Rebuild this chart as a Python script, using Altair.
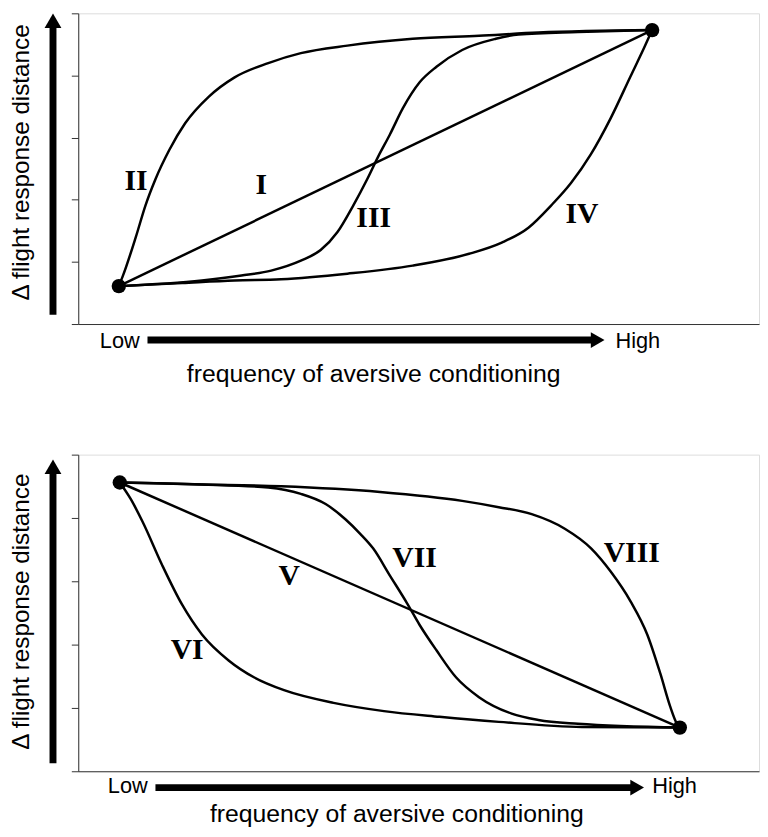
import altair as alt
import pandas as pd

# ---------------- data ----------------
# x: 0..100 along the frequency axis, y: 0..5 (one unit per tick)
TOP_DOTS_X = [5.96, 84.30]
TOP_DOTS_Y = [0.61, 4.73]

CURVE_I_X = [5.96, 84.30]
CURVE_I_Y = [0.61, 4.73]
CURVE_II_X = [5.96, 6.54, 8.43, 9.88, 11.34, 13.37, 15.70, 19.19, 22.97, 27.91, 32.70, 39.53, 49.13, 58.87, 67.59, 84.30]
CURVE_II_Y = [0.61, 0.77, 1.39, 1.91, 2.33, 2.80, 3.23, 3.66, 3.97, 4.20, 4.36, 4.48, 4.59, 4.64, 4.69, 4.73]
CURVE_III_X = [5.96, 18.17, 23.98, 28.34, 32.70, 35.61, 38.08, 40.41, 42.44, 44.04, 45.78, 47.67, 50.15, 52.62, 56.40, 61.34, 64.68, 73.40, 84.30]
CURVE_III_Y = [0.61, 0.70, 0.78, 0.86, 1.02, 1.19, 1.48, 1.91, 2.33, 2.69, 3.05, 3.47, 3.89, 4.14, 4.41, 4.59, 4.66, 4.70, 4.73]
CURVE_IV_X = [5.96, 15.26, 22.97, 29.80, 39.53, 49.13, 57.41, 62.21, 66.13, 69.48, 72.38, 75.29, 78.20, 81.10, 83.14, 84.30]
CURVE_IV_Y = [0.61, 0.66, 0.70, 0.72, 0.81, 0.94, 1.13, 1.31, 1.55, 1.91, 2.27, 2.73, 3.31, 3.98, 4.45, 4.73]

BOT_DOTS_X = [6.10, 88.37]
BOT_DOTS_Y = [4.56, 0.69]

CURVE_V_X = [6.10, 88.37]
CURVE_V_Y = [4.56, 0.69]
CURVE_VI_X = [6.10, 7.70, 9.45, 12.35, 15.26, 18.17, 22.09, 25.87, 30.23, 37.50, 44.91, 53.05, 61.77, 73.98, 88.37]
CURVE_VI_Y = [4.56, 4.30, 3.94, 3.25, 2.63, 2.16, 1.75, 1.48, 1.28, 1.08, 0.95, 0.86, 0.78, 0.70, 0.69]
CURVE_VII_X = [6.10, 18.17, 27.91, 32.70, 36.34, 39.24, 41.42, 43.31, 45.78, 48.26, 50.15, 52.62, 55.52, 58.87, 63.66, 67.59, 73.40, 88.37]
CURVE_VII_Y = [4.56, 4.53, 4.48, 4.38, 4.22, 3.98, 3.75, 3.52, 3.09, 2.66, 2.31, 1.91, 1.48, 1.17, 0.91, 0.81, 0.75, 0.69]
CURVE_VIII_X = [6.10, 18.17, 29.80, 44.33, 56.40, 61.77, 66.61, 71.47, 75.33, 78.24, 81.15, 83.58, 85.51, 86.96, 87.94, 88.37]
CURVE_VIII_Y = [4.56, 4.53, 4.50, 4.41, 4.27, 4.17, 4.06, 3.83, 3.52, 3.15, 2.68, 2.16, 1.54, 1.02, 0.75, 0.69]

TOP_LABELS = ["II", "I", "III", "IV"]
TOP_LABELS_X = [8.5, 26.9, 43.4, 74.0]
TOP_LABELS_Y = [2.16, 2.09, 1.56, 1.63]
BOT_LABELS = ["V", "VI", "VII", "VIII"]
BOT_LABELS_X = [31.0, 16.0, 49.4, 81.3]
BOT_LABELS_Y = [2.94, 1.77, 3.22, 3.31]

Y_TITLE = "\u0394 flight response distance"
X_TITLE = "frequency of aversive conditioning"
END_WORDS = ["Low", "High"]

TOP_WORDS_X = [6.10, 82.2]
TOP_WORDS_Y = [-0.39, -0.38]
TOP_XTITLE_POS = [43.4, -0.94]
TOP_YTITLE_POS = [-7.27, 2.60]
BOT_WORDS_X = [7.27, 87.6]
BOT_WORDS_Y = [-0.34, -0.34]
BOT_XTITLE_POS = [46.8, -0.80]
BOT_YTITLE_POS = [-7.27, 2.52]

# arrows: vertical [x, y_start, y_end, head_y], horizontal [y, x_start, x_end, head_x]
TOP_VARROW = [-3.71, 0.15, 4.80, 4.88]
TOP_HARROW = [-0.258, 10.17, 76.0, 76.3]
BOT_VARROW = [-3.71, 0.125, 4.74, 4.81]
BOT_HARROW = [-0.258, 11.34, 82.0, 82.1]

TICKS = [0, 1, 2, 3, 4, 5]

AXIS_COLOR = "#333333"
SANS = "Liberation Sans"
SERIF = "Liberation Serif"


def curves_frame(named):
    rows = []
    for name, xs, ys in named:
        for x, y in zip(xs, ys):
            rows.append({"curve": name, "x": x, "y": y})
    return pd.DataFrame(rows)


def panel(curves, dots_x, dots_y, labels, labels_x, labels_y,
          words_x, words_y, xtitle_pos, ytitle_pos, varrow, harrow, height):
    xs = alt.Scale(domain=[0, 100], nice=False, zero=False)
    ys = alt.Scale(domain=[0, 5], nice=False, zero=False)
    xax = alt.Axis(title=None, labels=False, ticks=False, grid=False,
                   domainColor=AXIS_COLOR, domainWidth=1)
    yax = alt.Axis(title=None, labels=False, ticks=True, tickSize=7,
                   tickColor=AXIS_COLOR, tickWidth=1, grid=False,
                   domainColor=AXIS_COLOR, domainWidth=1, values=TICKS)
    X = alt.X("x:Q", scale=xs, axis=xax)
    Y = alt.Y("y:Q", scale=ys, axis=yax)

    lines = alt.Chart(curves_frame(curves)).mark_line(
        interpolate="monotone", color="black", strokeWidth=2.5, clip=False
    ).encode(x=X, y=Y, detail="curve:N")

    dots = alt.Chart(pd.DataFrame({"x": dots_x, "y": dots_y})).mark_circle(
        color="black", opacity=1, size=210, clip=False
    ).encode(x=X, y=Y)

    lab = alt.Chart(pd.DataFrame({"t": labels, "x": labels_x, "y": labels_y})).mark_text(
        font=SERIF, fontWeight="bold", fontSize=30, color="black",
        align="center", baseline="alphabetic", clip=False
    ).encode(x=X, y=Y, text="t:N")

    words = alt.Chart(pd.DataFrame({"t": END_WORDS, "x": words_x, "y": words_y})).mark_text(
        font=SANS, fontSize=22, color="black", align="center",
        baseline="alphabetic", clip=False
    ).encode(x=X, y=Y, text="t:N")

    xtitle = alt.Chart(pd.DataFrame({"t": [X_TITLE], "x": [xtitle_pos[0]], "y": [xtitle_pos[1]]})).mark_text(
        font=SANS, fontSize=25, color="black", align="center",
        baseline="alphabetic", clip=False
    ).encode(x=X, y=Y, text="t:N")

    ytitle = alt.Chart(pd.DataFrame({"t": [Y_TITLE], "x": [ytitle_pos[0]], "y": [ytitle_pos[1]]})).mark_text(
        font=SANS, fontSize=24.5, color="black", align="center", angle=270,
        baseline="alphabetic", clip=False
    ).encode(x=X, y=Y, text="t:N")

    vshaft = alt.Chart(pd.DataFrame({"x": [varrow[0]], "y": [varrow[1]], "y2": [varrow[2]]})).mark_rule(
        color="black", strokeWidth=7, strokeCap="butt", clip=False
    ).encode(x=X, y=Y, y2="y2:Q")
    vhead = alt.Chart(pd.DataFrame({"x": [varrow[0]], "y": [varrow[3]]})).mark_point(
        shape="triangle-up", size=289, filled=True, color="black", opacity=1,
        strokeWidth=0, clip=False
    ).encode(x=X, y=Y)

    hshaft = alt.Chart(pd.DataFrame({"y": [harrow[0]], "x": [harrow[1]], "x2": [harrow[2]]})).mark_rule(
        color="black", strokeWidth=7, strokeCap="butt", clip=False
    ).encode(x=X, x2="x2:Q", y=Y)
    hhead = alt.Chart(pd.DataFrame({"y": [harrow[0]], "x": [harrow[3]]})).mark_point(
        shape="triangle-right", size=256, filled=True, color="black", opacity=1,
        strokeWidth=0, clip=False
    ).encode(x=X, y=Y)

    return alt.layer(lines, dots, lab, words, xtitle, ytitle,
                     vshaft, vhead, hshaft, hhead).properties(width=688, height=height)


top = panel(
    [("I", CURVE_I_X, CURVE_I_Y), ("II", CURVE_II_X, CURVE_II_Y),
     ("III", CURVE_III_X, CURVE_III_Y), ("IV", CURVE_IV_X, CURVE_IV_Y)],
    TOP_DOTS_X, TOP_DOTS_Y, TOP_LABELS, TOP_LABELS_X, TOP_LABELS_Y,
    TOP_WORDS_X, TOP_WORDS_Y, TOP_XTITLE_POS, TOP_YTITLE_POS,
    TOP_VARROW, TOP_HARROW, 314)

bottom = panel(
    [("V", CURVE_V_X, CURVE_V_Y), ("VI", CURVE_VI_X, CURVE_VI_Y),
     ("VII", CURVE_VII_X, CURVE_VII_Y), ("VIII", CURVE_VIII_X, CURVE_VIII_Y)],
    BOT_DOTS_X, BOT_DOTS_Y, BOT_LABELS, BOT_LABELS_X, BOT_LABELS_Y,
    BOT_WORDS_X, BOT_WORDS_Y, BOT_XTITLE_POS, BOT_YTITLE_POS,
    BOT_VARROW, BOT_HARROW, 320)

chart = alt.vconcat(top, bottom, spacing=132, bounds="flush").properties(
    padding={"left": 0, "top": 0, "right": 0, "bottom": 0}
).configure_view(strokeWidth=0).configure(background="white")

chart.save("out.html", embed_options={"renderer": "svg", "actions": False})
